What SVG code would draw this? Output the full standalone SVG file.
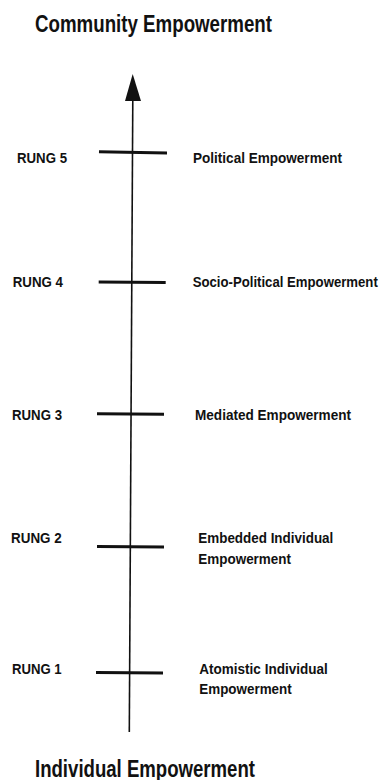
<svg xmlns="http://www.w3.org/2000/svg" width="385" height="780" viewBox="0 0 385 780">
<style>
text{font-family:"Liberation Sans",Arial,sans-serif;font-weight:bold;fill:#111;}
.title{font-size:23px;}
.lbl{font-size:15.5px;}
.rung{stroke:#111;stroke-width:3;fill:none;}
.axis{stroke:#111;stroke-width:1.6;fill:none;}
</style>
<rect width="385" height="780" fill="#fff"/>
<g id="title-top"><text class="title" x="35" y="31.5" textLength="237" lengthAdjust="spacingAndGlyphs">Community Empowerment</text></g>
<g id="title-bottom"><text class="title" x="35" y="776.5" textLength="220" lengthAdjust="spacingAndGlyphs">Individual Empowerment</text></g>
<g id="connectors">
<line class="axis" x1="132.8" y1="98" x2="129.3" y2="732"/>
<polygon points="132.7,74 125,101 141,101" fill="#111"/>
</g>
<g id="rung5">
<line class="rung" x1="99" y1="151.8" x2="167" y2="153"/>
<text class="lbl" x="17" y="163" textLength="50" lengthAdjust="spacingAndGlyphs">RUNG 5</text>
<text class="lbl" x="193" y="163" textLength="149" lengthAdjust="spacingAndGlyphs">Political Empowerment</text>
</g>
<g id="rung4">
<line class="rung" x1="98.7" y1="282" x2="165.7" y2="282.6"/>
<text class="lbl" x="12.7" y="286.5" textLength="50.3" lengthAdjust="spacingAndGlyphs">RUNG 4</text>
<text class="lbl" transform="translate(192.7 286.5) scale(0.85 1)">Socio-Political Empowerment</text>
</g>
<g id="rung3">
<line class="rung" x1="97" y1="413.7" x2="164" y2="414.3"/>
<text class="lbl" x="12" y="420" textLength="50" lengthAdjust="spacingAndGlyphs">RUNG 3</text>
<text class="lbl" x="195" y="420" textLength="156" lengthAdjust="spacingAndGlyphs">Mediated Empowerment</text>
</g>
<g id="rung2">
<line class="rung" x1="97" y1="546.4" x2="164" y2="547"/>
<text class="lbl" x="11" y="542.7" textLength="50.7" lengthAdjust="spacingAndGlyphs">RUNG 2</text>
<text class="lbl" x="198.3" y="543.2" textLength="135" lengthAdjust="spacingAndGlyphs">Embedded Individual</text>
<text class="lbl" x="198.3" y="564" textLength="92.7" lengthAdjust="spacingAndGlyphs">Empowerment</text>
</g>
<g id="rung1">
<line class="rung" x1="96" y1="672.4" x2="163" y2="673"/>
<text class="lbl" x="12" y="674" textLength="49.7" lengthAdjust="spacingAndGlyphs">RUNG 1</text>
<text class="lbl" x="199.3" y="673.5" textLength="128.4" lengthAdjust="spacingAndGlyphs">Atomistic Individual</text>
<text class="lbl" x="199.3" y="694" textLength="92.4" lengthAdjust="spacingAndGlyphs">Empowerment</text>
</g>
</svg>
